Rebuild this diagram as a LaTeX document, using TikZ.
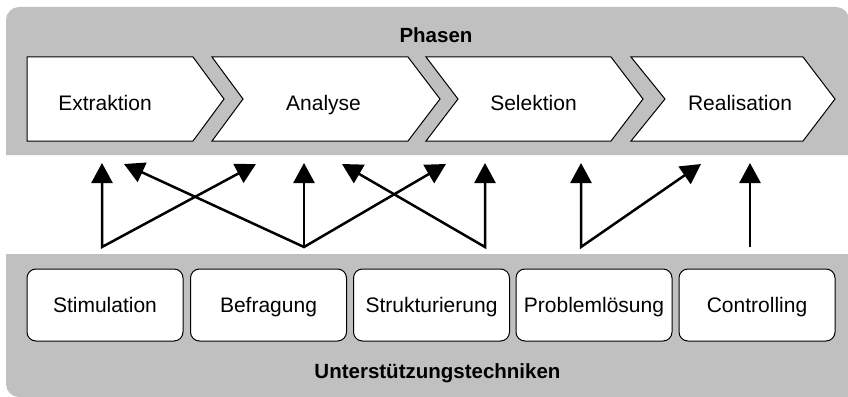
\documentclass[tikz,border=0pt]{standalone}
\usepackage{fontspec}
\setmainfont{Liberation Sans}
\usetikzlibrary{arrows.meta}
\definecolor{panelgray}{RGB}{192,192,192}
\begin{document}
\begin{tikzpicture}[x=1pt,y=-1pt,
  panel/.style={fill=panelgray},
  chev/.style={draw=black,fill=white,line width=1pt,line join=miter},
  phasetext/.style={anchor=base,font=\fontsize{21}{25}\selectfont,inner sep=0pt},
  titletext/.style={anchor=base,font=\fontsize{20.5}{24}\selectfont\bfseries,inner sep=0pt},
  tech/.style={draw=black,fill=white,line width=1pt,rounded corners=9pt,minimum width=156pt,minimum height=72pt,inner sep=0pt,font=\fontsize{21}{25}\selectfont,text height=15pt,text depth=0pt},
  arr/.style={line width=2.5pt,line join=miter,{Triangle[length=20pt,width=21pt]}-{Triangle[length=20pt,width=21pt]}},
  uparrow/.style={line width=2.5pt,-{Triangle[length=20pt,width=21pt]}}
]
\useasboundingbox (0,0) rectangle (848,396);
% panels
\fill[panel] (6,155) [rounded corners=13pt] -- (6,7) -- (849,7) [sharp corners] -- (849,155) -- cycle;
\fill[panel] (849,254) -- (6,254) [rounded corners=13pt] -- (6,397) [sharp corners] -- (849,397) -- cycle;
% chevrons
\draw[chev] (27,57) -- (193,57) -- (224,99) -- (193,141) -- (27,141) -- cycle;
\draw[chev] (212,57) -- (408,57) -- (440,99) -- (408,141) -- (212,141) -- (243,99) -- cycle;
\draw[chev] (426,57) -- (611,57) -- (643,99) -- (611,141) -- (426,141) -- (458,99) -- cycle;
\draw[chev] (631,57) -- (803,57) -- (835,99) -- (803,141) -- (631,141) -- (665,99) -- cycle;
\node[titletext] (phasen) at (436,43) {Phasen};
\node[phasetext] (extraktion) at (105,110) {Extraktion};
\node[phasetext] (analyse) at (323.5,110) {Analyse};
\node[phasetext] (selektion) at (533.5,110) {Selektion};
\node[phasetext] (realisation) at (740,110) {Realisation};
% techniques
\node[tech] (stim) at (105,305) {Stimulation};
\node[tech] (befr) at (268.5,305) {Befragung};
\node[tech] (strukt) at (431.5,305) {Strukturierung};
\node[tech] (probl) at (594,305) {Problemlösung};
\node[tech] (contr) at (757,305) {Controlling};
\node[titletext] (unter) at (437.5,378) {Unterstützungstechniken};
% arrow coordinates
\coordinate (b1) at (102,247);
\coordinate (t1v) at (102,163);
\coordinate (t1r) at (256,164);
\coordinate (b2) at (304,247);
\coordinate (t2l) at (124,164);
\coordinate (t2v) at (304,163);
\coordinate (t2r) at (446,164);
\coordinate (b3) at (485,247);
\coordinate (t3l) at (342,164);
\coordinate (t3v) at (485,163);
\coordinate (b4) at (581,247);
\coordinate (t4v) at (581,163);
\coordinate (t4r) at (701,164);
\coordinate (b5) at (750,247);
\coordinate (t5v) at (750,163);
% arrows
\draw[arr] (t1v) -- (b1) -- (t1r);
\draw[arr] (t2l) -- (b2) -- (t2r);
\draw[uparrow] (b2) -- (t2v);
\draw[arr] (t3l) -- (b3) -- (t3v);
\draw[arr] (t4v) -- (b4) -- (t4r);
\draw[uparrow] (b5) -- (t5v);
\end{tikzpicture}
\end{document}
